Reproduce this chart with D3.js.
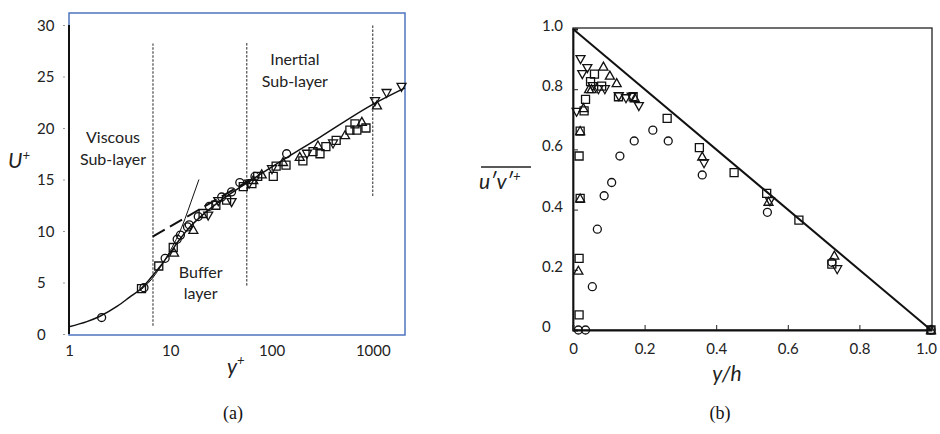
<!DOCTYPE html>
<html>
<head>
<meta charset="utf-8">
<script src="https://cdn.jsdelivr.net/npm/d3@7"></script>
<style>
  html, body { margin: 0; padding: 0; background: #fff; }
  svg { display: block; }
  .lbl { font-family: Lato, "Open Sans", sans-serif; fill: #222; }
</style>
</head>
<body>
<svg id="chart" width="940" height="434"></svg>
<script>
// ---------- Panel (a): mean velocity profile U+ vs y+ ----------
const yPlusTicks = [1, 10, 100, 1000];
const uPlusTicks = [0, 5, 10, 15, 20, 25, 30];
const yPlusMax = 2080;

const aCircles = [[2.1,1.6],[5.5,4.5],[8.9,7.35],[11.7,9.2],[12.6,9.6],[14.8,10.4],[15.4,10.6],[18.9,11.4],[24.3,12.4],[32.2,13.3],[40.3,13.8],[48.6,14.7],[68.6,15.3],[141,17.5]];
const aSquares = [[5.2,4.4],[7.7,6.6],[10.7,8.4],[21.1,11.7],[28.2,12.5],[36,13.0],[52.6,14.3],[64,14.6],[73,15.3],[104,15.3],[111,16.3],[139,16.4],[204,16.8],[257,17.7],[301,17.5],[344,18.2],[435,18.8],[594,19.8],[667,20.4],[696,19.8],[856,20.0]];
const aUpTriangles = [[10.9,7.9],[16.9,10.1],[66,14.95],[80,15.5],[130,16.7],[190,17.2],[287,18.3],[532,19.3],[780,20.6],[1100,22.2]];
const aDownTriangles = [[23.7,11.5],[29.8,12.9],[40.3,12.8],[60,14.6],[101,16.0],[224,17.5],[405,18.5],[1052,22.6],[1368,23.4],[1923,24.0]];

// composite wall-law curve, viscous-law branch and log-law branch
const wallLaw = [[1,0.7],[1.5,1.2],[2,1.7],[3,2.7],[4,3.6],[5,4.3],[6,5.1],[7,5.9],[8,6.6],[10,7.9],[12,9.0],[15,10.2],[20,11.4],[30,12.8],[50,14.3],[100,16.2],[300,19.1],[1000,22.3],[2080,23.9]];
const viscousLaw = [[5,4.2],[6,4.9],[8,6.5],[10,8.1],[12,9.6],[14,11.2],[16,12.8],[19.2,15.0]];
const logLaw = [[6.7,9.45],[60,14.9]];

// region boundaries: [y+, U+ bottom, U+ top]
const regionLines = [[6.75,0.8,28.2],[57,4.7,28.3],[1000,13.4,30]];
const regionLabels = [
  {text:["Viscous","Sub-layer"], x:6.75, dx:-40, u:[18.5,16.4]},
  {text:["Inertial","Sub-layer"], x:170, dx:0, u:[26.1,24.0]},
  {text:["Buffer","layer"], x:20, dx:0, u:[5.4,3.4]}
];

// ---------- Panel (b): Reynolds shear stress vs y/h ----------
const yhTicks = [0, 0.2, 0.4, 0.6, 0.8, 1.0];
const uvTicks = [0, 0.2, 0.4, 0.6, 0.8, 1.0];
const totalStress = [[0,1],[1,0]];

const bCircles = [[0.015,0.0],[0.035,0.0],[0.054,0.144],[0.068,0.335],[0.087,0.446],[0.108,0.49],[0.131,0.578],[0.171,0.628],[0.223,0.664],[0.266,0.628],[0.361,0.515],[0.543,0.391],[0.723,0.225],[1.0,0.0]];
const bSquares = [[0.017,0.05],[0.017,0.238],[0.02,0.437],[0.017,0.578],[0.02,0.661],[0.031,0.728],[0.035,0.766],[0.049,0.825],[0.06,0.85],[0.08,0.81],[0.127,0.775],[0.168,0.775],[0.263,0.703],[0.353,0.606],[0.45,0.523],[0.541,0.454],[0.631,0.365],[0.723,0.219],[1.0,0.0]];
const bUpTriangles = [[0.015,0.197],[0.02,0.437],[0.02,0.661],[0.029,0.737],[0.045,0.80],[0.052,0.80],[0.085,0.875],[0.103,0.845],[0.122,0.82],[0.173,0.77],[0.361,0.576],[0.546,0.426],[0.73,0.247],[1.0,0.0]];
const bDownTriangles = [[0.01,0.725],[0.021,0.90],[0.026,0.85],[0.04,0.87],[0.055,0.81],[0.071,0.80],[0.089,0.80],[0.128,0.777],[0.148,0.77],[0.164,0.775],[0.184,0.744],[0.366,0.554],[0.55,0.428],[0.738,0.202]];

const svg = d3.select("#chart");

// open markers shared by both panels
function drawMarkers(g, pts, sx, sy, kind) {
  const sel = g.append("g").selectAll("path").data(pts).join("path")
    .attr("fill", "none").attr("stroke", "#111").attr("stroke-width", 1.3)
    .attr("transform", d => `translate(${sx(d[0])},${sy(d[1])})`);
  if (kind === "circle") sel.attr("d", d3.symbol(d3.symbolCircle, 50)());
  if (kind === "square") sel.attr("d", "M-4,-4H4V4H-4Z");
  if (kind === "up") sel.attr("d", "M0,-4.5L4.5,3.5L-4.5,3.5Z");
  if (kind === "down") sel.attr("d", "M0,4.5L4.5,-3.5L-4.5,-3.5Z");
}

// ===== Panel (a) =====
{
  const x = d3.scaleLog().domain([1, yPlusMax]).range([69, 405]);
  const y = d3.scaleLinear().domain([0, 30]).range([334, 25]);
  const g = svg.append("g");

  // frame
  g.append("rect").attr("x", 69).attr("y", 13).attr("width", 336).attr("height", 322)
    .attr("fill", "none").attr("stroke", "#4f74c0").attr("stroke-width", 1.5);

  // y axis
  const ya = g.append("g").attr("transform", "translate(69,0)")
    .call(d3.axisLeft(y).tickValues(uPlusTicks).tickSize(3).tickPadding(0));
  ya.select(".domain").attr("stroke", "#111").attr("stroke-width", 2)
    .attr("d", `M0,${y(30)}V${y(0)}`);
  ya.selectAll(".tick line").attr("stroke", "#999").attr("x1", -6).attr("x2", -4);
  ya.selectAll(".tick text").attr("class", "lbl").attr("text-anchor", "start")
    .attr("x", -32).attr("dy", "0.35em").style("font-size", "15px");

  // x axis
  const xa = g.append("g").attr("transform", "translate(0,335)")
    .call(d3.axisBottom(x).tickValues(yPlusTicks).tickFormat(d3.format("d")).tickSize(0).tickPadding(10));
  xa.select(".domain").remove();
  xa.selectAll(".tick text").attr("class", "lbl").attr("dy", "0.71em").style("font-size", "15px");

  // region boundaries
  g.append("g").selectAll("line").data(regionLines).join("line")
    .attr("x1", d => x(d[0])).attr("x2", d => x(d[0]))
    .attr("y1", d => y(d[1])).attr("y2", d => y(d[2]))
    .attr("stroke", "#222").attr("stroke-width", 1).attr("stroke-dasharray", "2.5,1.5");

  regionLabels.forEach(r => {
    r.text.forEach((t, i) => {
      g.append("text").attr("class", "lbl")
        .attr("x", x(r.x) + r.dx).attr("y", y(r.u[i]))
        .attr("text-anchor", "middle").style("font-size", "16px").text(t);
    });
  });

  const line = d3.line().x(d => x(d[0])).y(d => y(d[1]));
  g.append("path").datum(viscousLaw).attr("d", line.curve(d3.curveMonotoneX))
    .attr("fill", "none").attr("stroke", "#111").attr("stroke-width", 1);
  g.append("path").datum(logLaw).attr("d", d3.line().x(d => x(d[0])).y(d => y(d[1])))
    .attr("fill", "none").attr("stroke", "#111").attr("stroke-width", 2).attr("stroke-dasharray", "14,6");
  g.append("path").datum(wallLaw).attr("d", d3.line().x(d => x(d[0])).y(d => y(d[1])).curve(d3.curveMonotoneX))
    .attr("fill", "none").attr("stroke", "#111").attr("stroke-width", 1.5);

  drawMarkers(g, aCircles, x, y, "circle");
  drawMarkers(g, aSquares, x, y, "square");
  drawMarkers(g, aUpTriangles, x, y, "up");
  drawMarkers(g, aDownTriangles, x, y, "down");

  g.append("text").attr("class", "lbl").attr("x", 8).attr("y", 168)
    .style("font-size", "21px").style("font-style", "italic")
    .html('U<tspan dy="-8" style="font-size:13px">+</tspan>');
  g.append("text").attr("class", "lbl").attr("x", 227).attr("y", 374)
    .style("font-size", "21px").style("font-style", "italic")
    .html('y<tspan dy="-9" style="font-size:13px">+</tspan>');

  svg.append("text").attr("x", 233).attr("y", 419).attr("text-anchor", "middle")
    .style("font-family", "'Liberation Serif', 'Times New Roman', serif").style("font-size", "18px")
    .attr("fill", "#111").text("(a)");
}

// ===== Panel (b) =====
{
  const x = d3.scaleLinear().domain([0, 1]).range([573, 931]);
  const y = d3.scaleLinear().domain([0, 1]).range([330, 29]);
  const g = svg.append("g");

  g.append("rect").attr("x", 573).attr("y", 28).attr("width", 359).attr("height", 302)
    .attr("fill", "none").attr("stroke", "#222").attr("stroke-width", 1.3);

  const ya = g.append("g").attr("transform", "translate(573,0)")
    .call(d3.axisLeft(y).tickValues(uvTicks).tickFormat(d => d === 0 ? "0" : d3.format(".1f")(d)).tickSize(-5).tickPadding(0));
  ya.select(".domain").attr("stroke", "#111").attr("stroke-width", 1.8);
  ya.selectAll(".tick line").attr("stroke", "#222");
  ya.selectAll(".tick text").attr("class", "lbl").attr("text-anchor", "start")
    .attr("x", -31).attr("dy", "0.1em").style("font-size", "15px");

  const xa = g.append("g").attr("transform", "translate(0,330)")
    .call(d3.axisBottom(x).tickValues(yhTicks).tickFormat(d => d === 0 ? "0" : d3.format(".1f")(d)).tickSize(-5).tickPadding(13));
  xa.select(".domain").attr("stroke", "#111").attr("stroke-width", 1.8);
  xa.selectAll(".tick line").attr("stroke", "#222");
  xa.selectAll(".tick text").attr("class", "lbl").style("font-size", "15px")
    .attr("dx", d => d === 1 ? -5 : 0);

  g.append("path").datum(totalStress).attr("d", d3.line().x(d => x(d[0])).y(d => y(d[1])))
    .attr("fill", "none").attr("stroke", "#111").attr("stroke-width", 2);

  drawMarkers(g, bCircles, x, y, "circle");
  drawMarkers(g, bSquares, x, y, "square");
  drawMarkers(g, bUpTriangles, x, y, "up");
  drawMarkers(g, bDownTriangles, x, y, "down");

  // y label with overline
  g.append("text").attr("class", "lbl").attr("x", 479).attr("y", 189)
    .style("font-size", "21px").style("font-style", "italic")
    .html('u′v′<tspan dy="-8" style="font-size:13px">+</tspan>');
  g.append("line").attr("x1", 481).attr("x2", 531).attr("y1", 167).attr("y2", 167)
    .attr("stroke", "#222").attr("stroke-width", 1.3);

  g.append("text").attr("class", "lbl").attr("x", 727).attr("y", 381).attr("text-anchor", "middle")
    .style("font-size", "21px").style("font-style", "italic").text("y/h");

  svg.append("text").attr("x", 720).attr("y", 419).attr("text-anchor", "middle")
    .style("font-family", "'Liberation Serif', 'Times New Roman', serif").style("font-size", "18px")
    .attr("fill", "#111").text("(b)");
}
</script>
</body>
</html>
